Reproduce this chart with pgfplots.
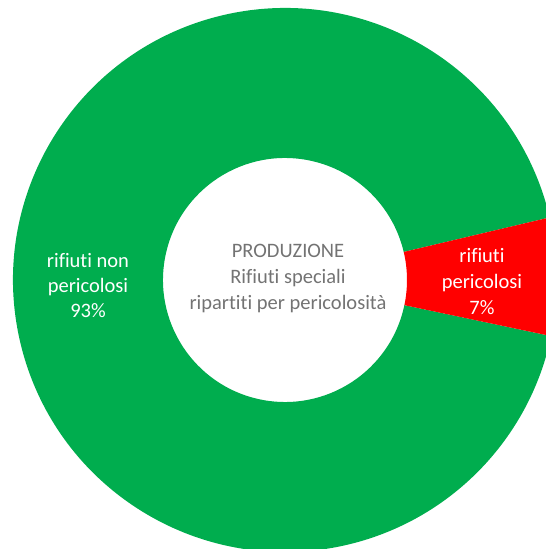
\documentclass[border=0pt]{standalone}
\usepackage{pgfplots}
\usepackage{pgfplotstable}
\pgfplotsset{compat=1.18}
\usepackage{fontspec}
\setmainfont{Carlito}[Ligatures=NoCommon]

\definecolor{verde}{RGB}{0,173,78}
\definecolor{rosso}{RGB}{255,0,0}
\definecolor{testo}{RGB}{115,115,115}

% quote percentuali (rifiuti speciali)
\pgfplotstableread{
cat value
nonpericolosi 93
pericolosi 7
}\datatable
\pgfplotstablegetelem{0}{value}\of\datatable \let\vnon\pgfplotsretval
\pgfplotstablegetelem{1}{value}\of\datatable \let\vper\pgfplotsretval

% geometria della ciambella (unita' = pt)
\def\cx{285}
\def\cy{269}
\def\Ro{272}
\def\Ri{122}
\pgfmathsetmacro{\astart}{-11.9}
\pgfmathsetmacro{\aper}{\astart+3.6*\vper}
\pgfmathsetmacro{\anon}{\aper+3.6*\vnon}

% settore di corona circolare: #1 colore, #2 angolo iniziale, #3 angolo finale
% (espanso subito, perche' axis rinvia i comandi di disegno)
\newcommand{\settore}[3]{%
  \pgfmathsetmacro{\xo}{\cx+\Ro*cos(#2)}%
  \pgfmathsetmacro{\yo}{\cy+\Ro*sin(#2)}%
  \pgfmathsetmacro{\xin}{\cx+\Ri*cos(#3)}%
  \pgfmathsetmacro{\yin}{\cy+\Ri*sin(#3)}%
  \edef\tmp{\noexpand\fill[#1] (axis cs:\xo,\yo) arc[start angle=#2, end angle=#3, radius=\Ro]
    -- (axis cs:\xin,\yin) arc[start angle=#3, end angle=#2, radius=\Ri] -- cycle;}%
  \tmp
}

\begin{document}
\begin{tikzpicture}
\begin{axis}[
  width=546pt, height=549pt, scale only axis,
  xmin=0, xmax=546, ymin=0, ymax=549,
  hide axis, clip=true,
]
  \settore{verde}{\aper}{\anon}
  \settore{rosso}{\astart}{\aper}

  \node[text=testo, align=center, font=\fontsize{20.5}{26}\selectfont]
    at (axis cs:288,270) {PRODUZIONE\\Rifiuti speciali\\ripartiti per pericolosità};
  \node[text=white, align=center, font=\fontsize{20.5}{25}\selectfont]
    at (axis cs:88,263) {rifiuti non\\pericolosi\\\vnon\%};
  \node[text=white, align=center, font=\fontsize{20.5}{26}\selectfont]
    at (axis cs:482,267) {rifiuti\\pericolosi\\\vper\%};
\end{axis}
\pgfresetboundingbox
\path (current axis.south west) rectangle (current axis.north east);
\end{tikzpicture}
\end{document}
